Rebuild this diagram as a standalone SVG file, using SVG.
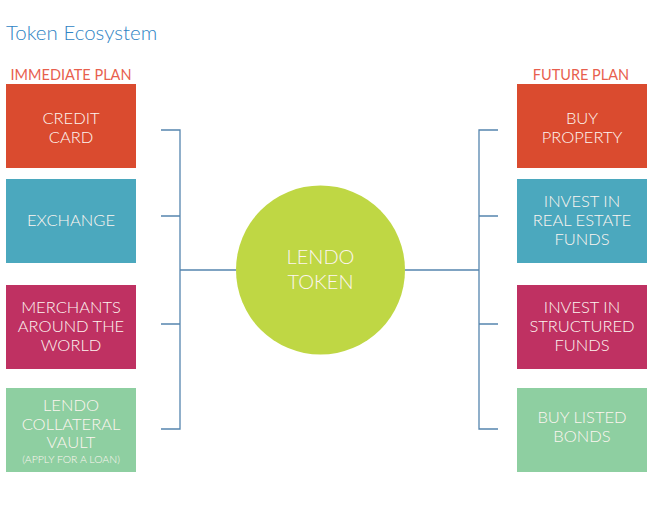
<svg xmlns="http://www.w3.org/2000/svg" width="652" height="515" viewBox="0 0 652 515">
<style>
.t{font-family:Lato,"Open Sans","Liberation Sans",sans-serif;font-weight:300;fill:#FDF5F0;text-anchor:middle;font-size:16.5px}
.s{font-size:10.5px}
.c{font-size:20px}
.h{font-family:Lato,"Open Sans","Liberation Sans",sans-serif;font-weight:300}
.p{font-family:Lato,"Open Sans","Liberation Sans",sans-serif;font-weight:400;font-size:14.5px;fill:#E85F4E;text-anchor:middle}
.ln{stroke:#5585AE;stroke-width:1.3;fill:none}
.red{fill:#DA4B2F}.teal{fill:#4BA8BE}.mag{fill:#BF3162}.grn{fill:#8ECFA1}
</style>
<rect width="652" height="515" fill="#fff"/>
<text class="h" x="6" y="40" font-size="20.5" fill="#2F84C4">Token Ecosystem</text>
<text class="p" x="71" y="80">IMMEDIATE PLAN</text>
<text class="p" x="581" y="80">FUTURE PLAN</text>
<g id="connectors">
<path class="ln" d="M161 130H180V429H161M161 216H180M161 324H180M180 270H236"/>
<path class="ln" d="M498 130H479V429H498M498 216H479M498 324H479M479 270H405"/>
</g>
<g id="credit-card"><rect class="red" x="6" y="84" width="130" height="84"/><text class="t" x="71" y="124">CREDIT</text><text class="t" x="71" y="143">CARD</text></g>
<g id="exchange"><rect class="teal" x="6" y="179" width="130" height="84"/><text class="t" x="71" y="226">EXCHANGE</text></g>
<g id="merchants"><rect class="mag" x="6" y="285" width="130" height="84"/><text class="t" x="71" y="313">MERCHANTS</text><text class="t" x="71" y="332">AROUND THE</text><text class="t" x="71" y="351">WORLD</text></g>
<g id="vault"><rect class="grn" x="6" y="388" width="130" height="84"/><text class="t" x="71" y="411">LENDO</text><text class="t" x="71" y="430">COLLATERAL</text><text class="t" x="71" y="448">VAULT</text><text class="t s" x="71" y="463">(APPLY FOR A LOAN)</text></g>
<g id="token"><circle cx="320.5" cy="270" r="84.5" fill="#BFD744"/><text class="t c" x="320.5" y="264">LENDO</text><text class="t c" x="320.5" y="289">TOKEN</text></g>
<g id="buy-property"><rect class="red" x="517" y="84" width="130" height="84"/><text class="t" x="582" y="124">BUY</text><text class="t" x="582" y="143">PROPERTY</text></g>
<g id="real-estate"><rect class="teal" x="517" y="179" width="130" height="84"/><text class="t" x="582" y="207">INVEST IN</text><text class="t" x="582" y="226">REAL ESTATE</text><text class="t" x="582" y="245">FUNDS</text></g>
<g id="structured"><rect class="mag" x="517" y="285" width="130" height="84"/><text class="t" x="582" y="313">INVEST IN</text><text class="t" x="582" y="332">STRUCTURED</text><text class="t" x="582" y="351">FUNDS</text></g>
<g id="bonds"><rect class="grn" x="517" y="388" width="130" height="84"/><text class="t" x="582" y="423">BUY LISTED</text><text class="t" x="582" y="442">BONDS</text></g>
</svg>
